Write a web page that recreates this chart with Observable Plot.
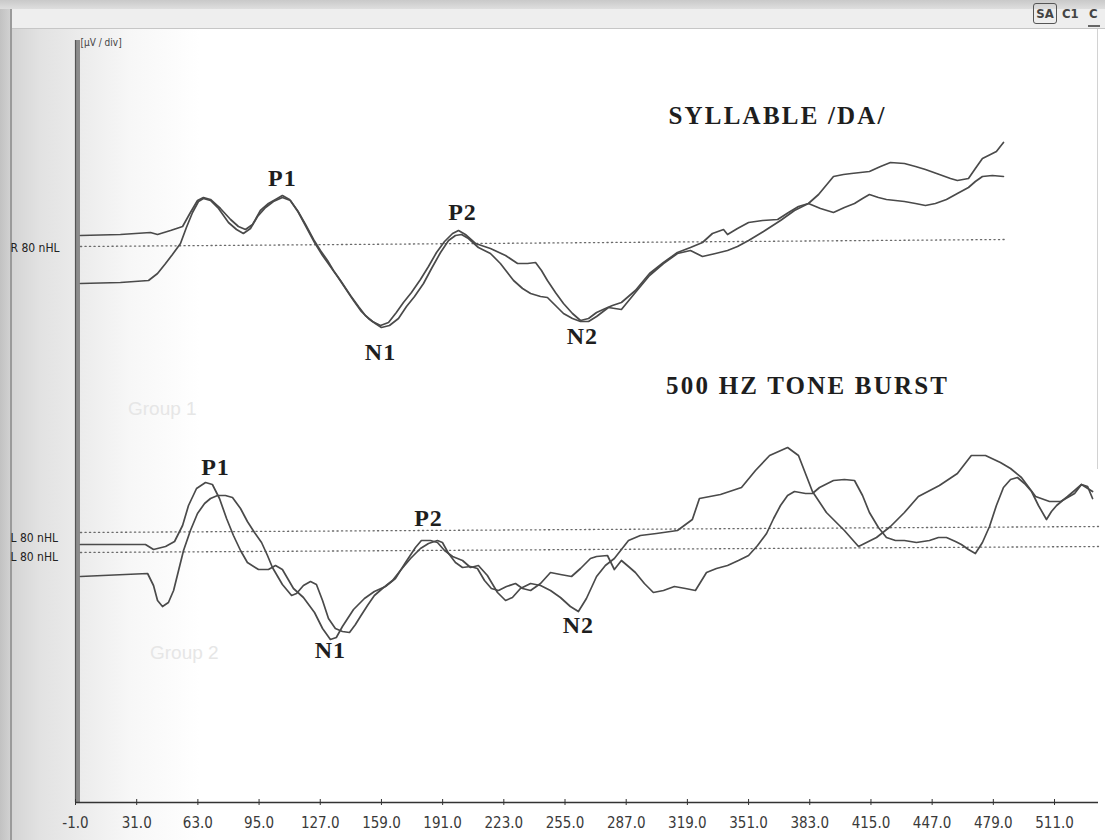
<!DOCTYPE html>
<html>
<head>
<meta charset="utf-8">
<script src="https://cdn.jsdelivr.net/npm/d3@7"></script>
<script src="https://cdn.jsdelivr.net/npm/@observablehq/plot@0.6"></script>
<style>
  html, body { margin: 0; padding: 0; }
  #wrap {
    position: relative; width: 1105px; height: 840px; overflow: hidden;
    background: linear-gradient(to right, #c2c2c2 0px, #d4d4d4 12px, #e2e2e2 40px, #e9e9e9 70px, #f7f7f7 130px, #ffffff 200px);
  }
  #chart { position: absolute; left: 0; top: 0; }
  #chart svg { background: transparent; overflow: visible; }
  .deco { position: absolute; }
  .ui { position: absolute; font-family: "DejaVu Sans Condensed", "Liberation Sans Narrow", sans-serif; font-weight: bold; color: #444; font-size: 13px; }
  .ghost { position: absolute; font-family: "Liberation Sans", Arial, sans-serif; font-size: 19px; color: #e6e6e6; }
</style>
</head>
<body>
<div id="wrap">
  <div class="deco" style="left:0;top:0;width:1105px;height:9px;background:linear-gradient(#c9c9c9,#dedede);"></div>
  <div class="deco" style="left:11px;top:9px;width:1094px;height:19px;background:#eeeeee;border-bottom:1px solid #c6c6c6;"></div>
  <div class="deco" style="left:10px;top:9px;width:2px;height:831px;background:#9a9a9a;"></div>
  <div class="deco" style="left:1097px;top:29px;width:1px;height:440px;background:#d2d2d2;"></div>
  <div class="ghost" style="left:128px;top:398px;">Group 1</div>
  <div class="ghost" style="left:150px;top:642px;">Group 2</div>
  <div class="ui" style="left:1033px;top:3px;width:22px;height:19px;border:1.5px solid #555;border-radius:3px;text-align:center;line-height:19px;">SA</div>
  <div class="ui" style="left:1062px;top:5px;line-height:17px;">C1</div>
  <div class="ui" style="left:1089px;top:5px;line-height:17px;">C</div>
  <div class="deco" style="left:1088px;top:25px;width:12px;height:2px;background:#666;"></div>
  <div id="chart"></div>
</div>
<script>
// ---------- DATA (time in ms, amplitude in arbitrary µV display units) ----------
const xTicks = [-1, 31, 63, 95, 127, 159, 191, 223, 255, 287, 319, 351, 383, 415, 447, 479, 511];

// Syllable /DA/ : two superimposed runs (R 80 nHL)
const syllableRunA = [[1.6,56.7],[22.5,56.8],[38.2,57.0],[41.9,56.8],[48.7,57.2],[55.0,57.6],[59.1,59.0],[62.8,60.2],[65.9,60.5],[69.6,60.3],[74.8,59.4],[80.1,58.3],[84.2,57.6],[87.9,57.3],[91.6,57.8],[95.7,59.2],[99.9,59.9],[103.6,60.3],[107.2,60.7],[110.9,60.3],[115.1,59.2],[119.3,57.8],[123.5,56.3],[127.1,55.2],[130.8,54.2],[133.9,53.2],[137.6,52.2],[142.8,50.7],[147.0,49.6],[150.6,48.7],[154.3,48.1],[158.5,47.7],[162.7,48.0],[166.8,49.0],[170.5,50.0],[174.7,51.0],[179.4,52.3],[183.6,53.6],[187.8,55.0],[192.0,56.1],[196.2,56.9],[199.3,57.2],[202.9,56.8],[208.2,55.9],[216.0,55.4],[223.9,54.7],[230.2,53.9],[235.4,53.9],[239.6,54.0],[242.7,53.2],[245.8,52.2],[250.0,51.0],[254.2,49.9],[258.9,48.9],[263.1,48.2],[267.3,48.4],[271.5,49.0],[276.1,49.4],[279.8,49.7],[284.5,50.0],[291.8,51.2],[299.2,52.9],[306.5,54.0],[313.8,55.0],[320.6,55.5],[326.9,56.0],[332.1,56.9],[337.9,57.3],[340.0,56.8],[345.2,57.4],[351.0,58.0],[358.3,58.2],[366.2,58.3],[371.9,59.0],[377.1,59.6],[382.3,59.9],[388.6,59.4],[395.4,59.0],[401.1,59.5],[406.4,59.9],[410.6,60.4],[414.2,60.8],[418.9,60.5],[423.1,60.3],[427.8,60.2],[432.5,60.1],[438.3,59.9],[443.5,59.7],[448.7,59.9],[454.5,60.3],[460.2,60.9],[466.0,61.5],[469.6,62.1],[473.3,62.6],[478.5,62.7],[484.3,62.6]];
const syllableRunB = [[1.6,51.9],[22.5,52.0],[37.2,52.2],[41.9,52.9],[46.1,53.9],[49.7,54.8],[53.9,55.9],[57.0,57.5],[60.2,59.0],[63.3,60.1],[65.9,60.4],[69.6,60.2],[73.8,59.4],[79.0,58.0],[83.2,57.3],[86.8,56.9],[90.5,57.4],[94.2,58.6],[98.4,59.5],[102.5,60.1],[107.2,60.5],[111.4,60.2],[115.6,59.0],[119.8,57.5],[124.0,56.0],[128.2,54.7],[132.3,53.6],[136.0,52.6],[140.2,51.4],[144.4,50.2],[148.5,49.1],[152.2,48.4],[155.8,47.9],[159.0,47.5],[163.2,47.7],[167.9,48.4],[172.1,49.6],[176.3,50.6],[181.0,51.9],[185.2,53.4],[189.9,55.0],[194.1,56.2],[197.7,56.7],[200.9,56.8],[204.5,56.4],[209.7,55.5],[216.0,54.9],[221.2,53.9],[228.1,52.2],[232.8,51.4],[237.0,50.9],[242.2,50.6],[245.8,50.5],[250.0,49.7],[254.2,48.9],[258.9,48.4],[263.1,48.1],[267.3,48.1],[271.5,48.6],[277.7,49.5],[284.5,49.3],[291.8,51.0],[299.2,52.7],[306.5,53.9],[313.8,54.9],[320.6,55.2],[326.9,54.6],[333.7,54.9],[340.0,55.2],[345.2,55.6],[351.0,56.2],[358.8,57.1],[367.7,58.2],[375.0,59.2],[382.3,59.9],[387.6,60.8],[395.4,62.6],[400.6,62.8],[404.8,62.9],[409.5,63.0],[414.2,63.1],[420.0,63.6],[425.2,64.0],[432.5,63.9],[438.3,63.6],[443.5,63.3],[450.8,62.8],[456.6,62.4],[460.2,62.2],[466.0,62.4],[469.6,63.4],[473.3,64.4],[477.5,64.8],[480.6,65.1],[484.3,66.0]];

// 500 Hz tone burst : two runs (L 80 nHL)
const toneRunA = [[1.6,25.8],[35.6,25.8],[39.8,25.3],[46.1,25.6],[50.8,26.1],[55.0,27.7],[58.1,29.7],[62.3,31.4],[67.0,32.0],[70.6,31.8],[74.3,30.4],[78.0,28.4],[81.6,26.7],[85.3,25.2],[88.9,24.0],[94.7,23.3],[99.9,23.3],[103.6,23.7],[107.2,23.3],[113.0,21.4],[118.2,20.5],[124.0,19.0],[128.2,17.4],[132.3,16.3],[135.4,16.5],[138.6,17.6],[144.4,19.3],[150.1,20.4],[155.3,21.1],[161.1,21.6],[166.3,22.4],[171.6,24.0],[176.8,25.5],[179.9,26.2],[184.6,26.2],[188.3,26.0],[192.0,25.2],[196.2,24.6],[201.4,24.2],[205.6,23.5],[209.7,23.7],[214.4,22.7],[219.7,21.0],[223.9,20.2],[227.5,20.5],[231.7,21.4],[237.0,21.9],[242.2,21.7],[247.4,21.2],[252.6,20.5],[257.8,19.6],[262.0,19.1],[266.2,20.4],[271.5,22.6],[276.1,23.7],[280.8,24.4],[288.2,26.2],[294.4,26.7],[302.8,26.9],[313.8,27.2],[321.6,28.3],[325.3,30.4],[336.3,30.8],[347.3,31.5],[354.6,33.2],[362.0,34.7],[371.4,35.5],[377.1,34.7],[384.4,31.1],[391.7,29.0],[401.1,27.2],[408.5,25.6],[417.9,26.5],[425.2,27.6],[432.5,29.0],[439.8,30.6],[450.8,31.7],[460.2,32.9],[467.5,34.7],[474.9,34.7],[482.7,34.0],[488.0,33.4],[493.7,32.5],[501.1,30.6],[508.4,30.1],[514.2,30.1],[521.5,30.9],[525.1,31.8],[530.9,31.1]];
const toneRunB = [[1.6,22.6],[36.7,22.9],[39.8,21.7],[41.9,20.2],[44.5,19.6],[47.6,20.0],[50.3,21.2],[52.9,23.2],[55.5,25.2],[59.1,27.2],[62.8,28.9],[66.5,29.9],[69.6,30.4],[73.3,30.7],[77.4,30.7],[81.1,30.5],[85.3,29.4],[88.9,28.1],[92.6,27.0],[96.3,26.0],[99.4,24.7],[102.0,23.5],[107.2,21.8],[112.0,20.7],[114.6,20.9],[118.2,21.7],[121.9,22.1],[125.0,21.8],[128.2,20.2],[131.3,18.4],[134.9,17.4],[138.6,17.1],[142.3,17.0],[145.4,17.8],[148.0,18.6],[151.7,19.7],[155.3,20.7],[159.5,21.4],[164.8,22.2],[168.9,23.2],[174.2,24.4],[179.4,25.4],[183.6,25.9],[188.3,26.2],[190.9,26.0],[194.1,24.9],[197.7,24.0],[201.4,23.5],[205.6,23.6],[209.2,23.4],[212.9,22.2],[216.5,21.4],[220.2,21.2],[224.4,21.6],[229.1,21.9],[232.8,21.4],[237.0,21.2],[242.2,21.9],[247.4,23.0],[252.6,22.8],[258.4,22.6],[263.1,23.4],[268.3,24.4],[271.5,24.6],[277.2,24.7],[280.8,23.3],[284.5,24.2],[288.2,23.6],[291.8,23.0],[296.5,21.9],[301.2,21.0],[306.5,21.2],[312.2,21.6],[318.0,21.4],[323.2,21.2],[329.0,23.0],[334.2,23.4],[340.0,23.7],[345.7,24.2],[351.0,24.7],[355.7,25.7],[360.4,26.9],[364.1,28.4],[367.7,29.7],[371.4,30.7],[375.0,31.1],[380.8,30.9],[384.4,30.9],[388.1,31.5],[395.4,32.2],[401.1,32.3],[406.4,32.2],[410.6,30.7],[414.2,29.0],[418.9,27.5],[423.1,26.5],[427.8,26.2],[432.5,26.2],[438.8,26.0],[445.6,26.2],[450.3,26.5],[454.5,26.5],[459.2,26.1],[462.3,25.8],[466.0,25.3],[469.6,24.9],[473.3,26.0],[477.0,27.6],[480.6,29.7],[484.3,31.5],[488.0,32.3],[491.6,32.5],[495.3,31.9],[499.0,31.1],[502.6,29.7],[506.8,28.3],[509.4,29.1],[512.1,29.7],[515.2,30.2],[517.8,30.6],[521.5,31.2],[525.1,31.8],[528.3,31.6],[530.9,30.4]];

// Reference (zero) levels of each channel
const syllableBaseline = [[1.6,55.6],[485,56.3]];
const toneBaselineA = [[1.6,27.0],[534,27.6]];
const toneBaselineB = [[1.6,25.0],[534,25.6]];

// Channel labels (left margin)
const channelLabels = ["R 80 nHL", "L 80 nHL", "L 80 nHL"];
const channelLevels = [55.4, 26.4, 24.5];

// Peak labels
const peakNames = ["P1", "N1", "P2", "N2", "P1", "N1", "P2", "N2"];
const peakTimes = [107.2, 158.5, 201.4, 264.1, 72.2, 132.3, 183.6, 262.0];
const peakLevels = [62.4, 45.0, 59.0, 46.6, 33.5, 15.2, 28.4, 17.7];

// Stimulus titles
const stimulusNames = ["SYLLABLE /DA/", "500 HZ TONE BURST"];
const stimulusTimes = [366.2, 381.9];
const stimulusLevels = [68.7, 41.7];

const unitLabel = "[µV / div]";

// ---------- CHART ----------
const channelTable = channelLabels.map((label, i) => ({label, level: channelLevels[i]}));
const peakTable = peakNames.map((name, i) => ({name, t: peakTimes[i], v: peakLevels[i]}));
const stimTable = stimulusNames.map((name, i) => ({name, t: stimulusTimes[i], v: stimulusLevels[i]}));

const traceStyle = {stroke: "#4a4a4a", strokeWidth: 1.7, strokeLinejoin: "round"};
const dotStyle = {stroke: "#6a6a6a", strokeWidth: 1.3, strokeDasharray: "1.2,3.3"};
const serif = "'Liberation Serif', 'Times New Roman', serif";
const narrow = "'Liberation Sans Narrow', 'DejaVu Sans Condensed', sans-serif";

const chart = Plot.plot({
  width: 1105,
  height: 840,
  marginLeft: 75,
  marginRight: 7,
  marginTop: 40,
  marginBottom: 38,
  style: {fontFamily: narrow, fontSize: "15px", color: "#3a3a3a", background: "transparent"},
  x: {domain: [-1, 534], label: null},
  y: {domain: [0, 76.2], axis: null},
  marks: [
    Plot.ruleX([-1], {stroke: "#8c8c8c", strokeWidth: 5, dx: 2}),
    Plot.ruleX([-1], {stroke: "#555", strokeWidth: 1.2}),
    Plot.ruleY([0], {stroke: "#333", strokeWidth: 1.5}),
    Plot.axisX(xTicks, {anchor: "bottom", label: null, tickSize: 3, tickPadding: 12, tickFormat: d => d.toFixed(1), stroke: "#333", fill: "#3a3a3a"}),
    Plot.axisX(xTicks, {anchor: "bottom", label: null, tickSize: 3, dy: -3, tickFormat: () => "", stroke: "#333"}),
    Plot.line(syllableBaseline, dotStyle),
    Plot.line(toneBaselineA, dotStyle),
    Plot.line(toneBaselineB, dotStyle),
    Plot.line(syllableRunA, traceStyle),
    Plot.line(syllableRunB, traceStyle),
    Plot.line(toneRunA, traceStyle),
    Plot.line(toneRunB, traceStyle),
    Plot.text(channelTable, {x: () => -35, y: "level", text: "label", textAnchor: "start", fontSize: 12, fill: "#222", fontFamily: narrow}),
    Plot.text([unitLabel], {x: () => 1.6, y: () => 76.0, text: d => d, textAnchor: "start", fontSize: 10, fill: "#444", fontFamily: narrow}),
    Plot.text(peakTable, {x: "t", y: "v", text: "name", fontSize: 24, fontWeight: "bold", fontFamily: serif, fill: "#1e1e1e"}),
    Plot.text(stimTable, {x: "t", y: "v", text: "name", fontSize: 25, fontWeight: "bold", fontFamily: serif, fill: "#1e1e1e"})
  ]
});

document.getElementById("chart").appendChild(chart);
chart.querySelectorAll("text").forEach(t => {
  const s = t.textContent;
  if (stimulusNames.includes(s)) t.style.letterSpacing = "2.2px";
  else if (peakNames.includes(s)) t.style.letterSpacing = "1px";
});
</script>
</body>
</html>
